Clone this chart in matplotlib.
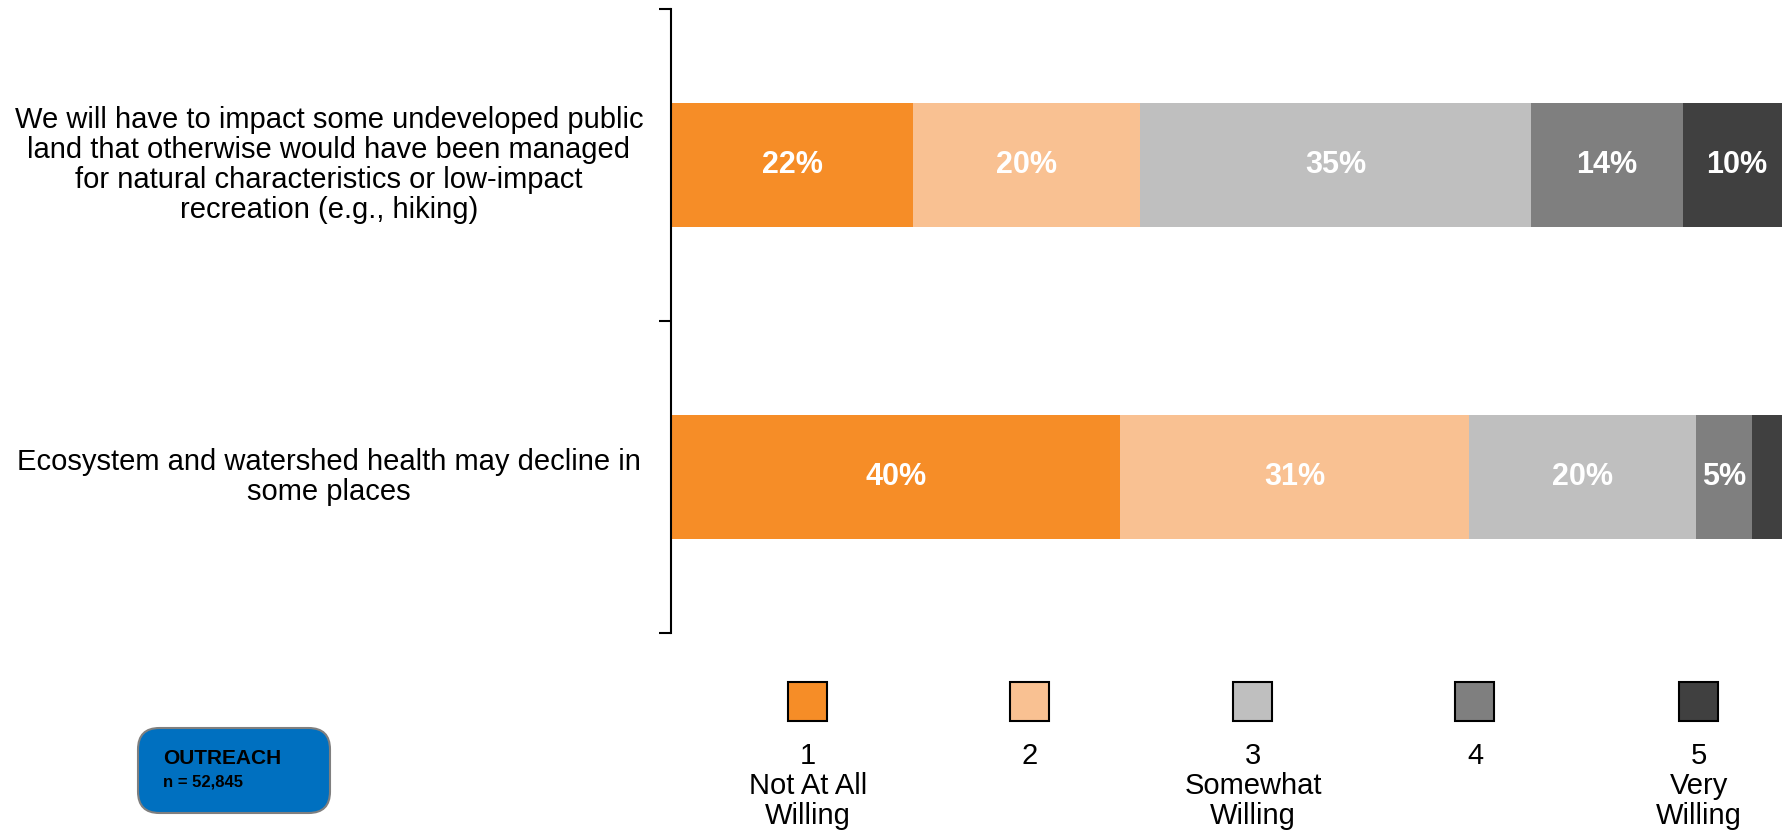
import matplotlib
matplotlib.use("Agg")
import matplotlib.pyplot as plt
from matplotlib.patches import Rectangle, FancyBboxPatch

plt.rcParams['font.family'] = ['Liberation Sans', 'DejaVu Sans']

categories = [
    "We will have to impact some undeveloped public\nland that otherwise would have been managed\nfor natural characteristics or low-impact\nrecreation (e.g., hiking)",
    "Ecosystem and watershed health may decline in\nsome places",
]
levels = ["1\nNot At All\nWilling", "2", "3\nSomewhat\nWilling", "4", "5\nVery\nWilling"]
values = [
    [21.8, 20.4, 35.1, 13.7, 9.6],
    [40.4, 31.4, 20.4, 5.0, 2.8],
]
colors = ["#F68D27", "#F9C192", "#BFBFBF", "#7F7F7F", "#404040"]

W, H = 1783, 832
fig = plt.figure(figsize=(W / 100, H / 100), dpi=100)
ax = fig.add_axes([671 / W, 1 - 633 / H, 1 - 671 / W, (633 - 9) / H])

for i, row in enumerate(values):
    left = 0
    for j, v in enumerate(row):
        ax.barh(i, v, left=left, height=0.4, color=colors[j], edgecolor='none')
        if v >= 4:
            ax.text(left + v / 2, i, f"{round(v)}%", ha='center', va='center',
                    color='white', fontsize=22, fontweight='bold')
        left += v

ax.set_xlim(0, 100)
ax.set_ylim(1.5, -0.5)
for s in ['top', 'right', 'bottom']:
    ax.spines[s].set_visible(False)
ax.spines['left'].set_linewidth(1.5)
ax.set_xticks([])
ax.set_yticks([-0.5, 0.5, 1.5])
ax.set_yticklabels([])
ax.tick_params(axis='y', length=9, width=1.5, direction='out')

for i, c in enumerate(categories):
    y = ax.transData.transform((0, i))[1] / H
    fig.text(329 / W, y, c, ha='center', va='center', fontsize=21,
             multialignment='center', linespacing=1.1)

# legend
centers = [808, 1030, 1253, 1475, 1699]
sq = 39
for cx, col, lab in zip(centers, colors, levels):
    fig.add_artist(Rectangle(((cx - sq / 2) / W, 1 - 721 / H), sq / W, sq / H,
                             facecolor=col, edgecolor='black', linewidth=1.5,
                             transform=fig.transFigure))
    fig.text(cx / W, 1 - 742 / H, lab, ha='center', va='top', fontsize=21,
             multialignment='center', linespacing=1.08)

# outreach box
box = FancyBboxPatch((138 / W, 1 - 813 / H), (330 - 138) / W, (813 - 728) / H,
                     boxstyle="round,pad=0,rounding_size=0.012",
                     facecolor="#0070C0", edgecolor="#7F7F7F", linewidth=1.5,
                     transform=fig.transFigure, mutation_aspect=W / H)
fig.add_artist(box)
fig.text(163 / W, 1 - 758 / H, "OUTREACH", ha='left', va='center', fontsize=15,
         fontweight='bold', color='black')
fig.text(163 / W, 1 - 782 / H, "n = 52,845", ha='left', va='center', fontsize=12,
         fontweight='bold', color='black')

fig.savefig("out.png", dpi=100)
